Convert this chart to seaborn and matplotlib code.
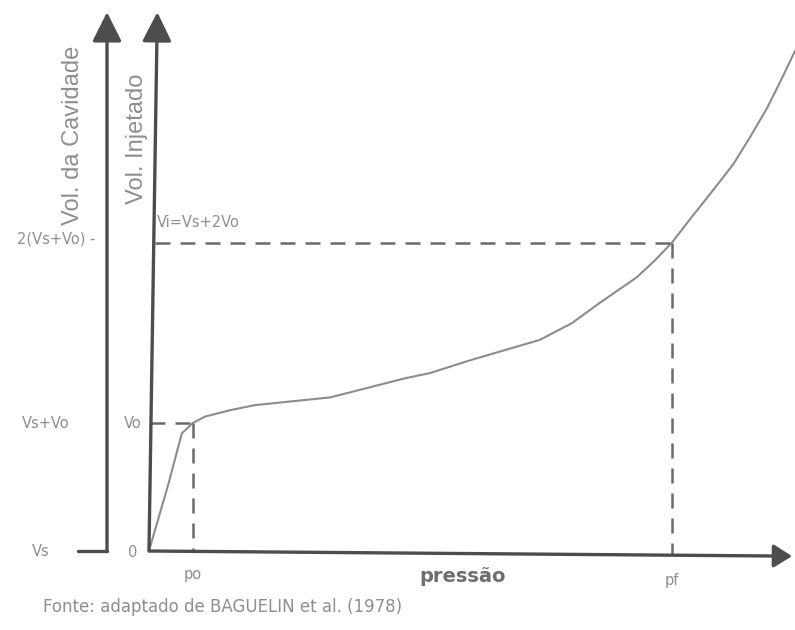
import numpy as np
import pandas as pd
import seaborn as sns
import matplotlib
matplotlib.use("Agg")
import matplotlib.pyplot as plt

# Pressuremeter curve (pressure vs injected volume), arbitrary units
pressure = [0.0, 0.35, 0.61, 0.82, 1.05, 1.53, 2.01, 2.49, 2.97, 3.45, 3.93,
            4.41, 4.89, 5.36, 6.13, 6.80, 7.47, 8.08, 8.62, 9.33, 9.67,
            10.0, 10.34, 10.73, 11.17, 11.49, 11.82, 12.09, 12.36]
volume = [0.03, 0.52, 0.92, 1.0, 1.05, 1.10, 1.14, 1.16, 1.18, 1.20, 1.25,
          1.30, 1.35, 1.39, 1.49, 1.57, 1.65, 1.78, 1.94, 2.14, 2.27,
          2.41, 2.59, 2.79, 3.02, 3.23, 3.46, 3.68, 3.91]

# Characteristic points
p_o, v_o = 0.82, 1.0
p_f, v_i = 10.0, 2.41

cavity_ticks = ["Vs", "Vs+Vo", "2(Vs+Vo) -"]
injected_ticks = ["0", "Vo"]
pressure_ticks = ["po", "pf"]

sns.set_theme(style="white")
plt.rcParams["font.family"] = ["Liberation Sans", "DejaVu Sans"]

fig = plt.figure(figsize=(7.95, 6.3), dpi=100)
ax = fig.add_axes([0, 0, 1, 1])
ax.set_xlim(-2.874, 12.356)
ax.set_ylim(-0.617, 4.305)
ax.axis("off")

axis_col = "#4d4d4d"
dash_col = "#6a6a6a"
text_col = "#8e8e8e"
small = dict(family=["DejaVu Sans"], fontsize=10.5, color=text_col,
             ha="center", va="center")

df = pd.DataFrame({"pressão": pressure, "volume": volume})
sns.lineplot(data=df, x="pressão", y="volume", ax=ax, color="#8c8c8c",
             lw=1.5, sort=False, legend=False)

# guide lines at po / Vo and pf / Vi
dash = dict(color=dash_col, lw=1.8, dashes=(6, 4))
ax.plot([0, p_o], [v_o, v_o], **dash)
ax.plot([p_o, p_o], [v_o, 0], **dash)
ax.plot([0.1, p_f], [v_i, v_i], **dash)
ax.plot([p_f, p_f], [v_i, -0.03], **dash)

# vertical axes with triangular heads
x_outer = -0.824
arrow_kw = dict(arrowstyle="-|>,head_length=1.0,head_width=0.5",
                color=axis_col, lw=2.4, mutation_scale=18, shrinkA=0, shrinkB=0)
ax.annotate("", xy=(x_outer, 4.21), xytext=(x_outer, 0.0), arrowprops=arrow_kw)
ax.annotate("", xy=(0.14, 4.21), xytext=(-0.02, 0.0), arrowprops=arrow_kw)
# horizontal axis
ax.annotate("", xy=(12.3, -0.04), xytext=(0.0, 0.0),
            arrowprops=dict(arrowstyle="-|>,head_length=0.8,head_width=0.5",
                            color=axis_col, lw=2.4, mutation_scale=14,
                            shrinkA=0, shrinkB=0))
# Vs base stub on the cavity axis
ax.plot([-1.38, x_outer], [0, 0], color=axis_col, lw=2.4)

# axis titles
ax.text(-1.47, 3.25, "Vol. da Cavidade", rotation=90, ha="center", va="center",
        fontsize=17, color=text_col)
ax.text(-0.25, 3.22, "Vol. Injetado", rotation=90, ha="center", va="center",
        fontsize=17, color=text_col)

# cavity-volume tick labels
ax.text(-2.09, 0.0, cavity_ticks[0], **small)
ax.text(-1.99, v_o, cavity_ticks[1], **small)
ax.text(-1.80, v_i + 0.03, cavity_ticks[2], **small)

# injected-volume tick labels
ax.text(-0.33, -0.01, injected_ticks[0], **small)
ax.text(-0.33, v_o, injected_ticks[1], **small)
ax.text(0.13, 2.57, "Vi=Vs+2Vo", **{**small, "ha": "left"})

# pressure tick labels
ax.text(p_o, -0.18, pressure_ticks[0], **small)
ax.text(p_f, -0.23, pressure_ticks[1], **small)
ax.text(5.98, -0.2, "pressão", ha="center", va="center", fontsize=14,
        family=["DejaVu Sans"], fontweight="bold", color="#6e6e6e")

ax.text(-2.05, -0.44, "Fonte: adaptado de BAGUELIN et al. (1978)", ha="left",
        va="center", fontsize=12, family=["DejaVu Sans"], color=text_col)

fig.savefig("out.png", dpi=100, facecolor="white")
